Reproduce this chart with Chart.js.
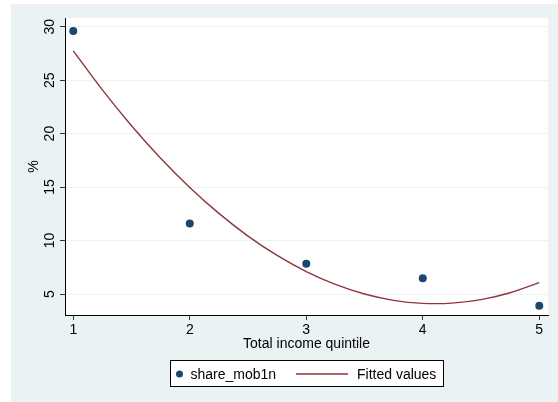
<!DOCTYPE html>
<html>
<head>
<meta charset="utf-8">
<script src="https://cdn.jsdelivr.net/npm/chart.js@4"></script>
<style>
  html, body { margin: 0; padding: 0; background: #ffffff; }
  #wrap { width: 558px; height: 402px; }
</style>
</head>
<body>
<div id="wrap"><canvas id="c" width="558" height="402"></canvas></div>
<script>
// Share of households by total income quintile
const quintiles = [1, 2, 3, 4, 5];
const shareMob1n = [29.6, 11.6, 7.84, 6.47, 3.9];

// Quadratic fitted values, sampled along the quintile axis
const fitX = [1, 1.25, 1.5, 1.75, 2, 2.25, 2.5, 2.75, 3, 3.25, 3.5, 3.75, 4, 4.25, 4.5, 4.75, 5];
const fitY = [27.74, 24.09, 20.74, 17.70, 14.97, 12.54, 10.42, 8.61, 7.10, 5.90, 5.00, 4.41, 4.13, 4.15, 4.48, 5.12, 6.06];

const xTickValues = [1, 2, 3, 4, 5];
const yTickValues = [5, 10, 15, 20, 25, 30];

const seriesNames = ['share_mob1n', 'Fitted values'];
const xTitle = 'Total income quintile';
const yTitle = '%';

const NAVY = '#1A476F';
const MAROON = '#90353B';
const PANEL = '#EAF2F3';
const FONT = { family: "'Liberation Sans', Arial, Helvetica, sans-serif", size: 14 };

const backgroundPlugin = {
  id: 'stataBackground',
  beforeDraw(chart) {
    const { ctx, chartArea: a } = chart;
    ctx.save();
    ctx.fillStyle = '#ffffff';
    ctx.fillRect(0, 0, chart.width, chart.height);
    ctx.fillStyle = PANEL;
    ctx.fillRect(11, 4, chart.width - 11, chart.height - 4);
    ctx.fillStyle = '#ffffff';
    ctx.fillRect(a.left, a.top, a.right - a.left, a.bottom - a.top);
    ctx.restore();
  }
};

const legendPlugin = {
  id: 'boxLegend',
  afterDraw(chart) {
    const { ctx } = chart;
    const ds = chart.data.datasets;
    ctx.save();
    ctx.fillStyle = '#ffffff';
    ctx.fillRect(170.5, 360.5, 273, 26);
    ctx.strokeStyle = '#000000';
    ctx.lineWidth = 1;
    ctx.strokeRect(170.5, 360.5, 273, 26);

    // scatter key
    ctx.fillStyle = ds[0].pointBackgroundColor;
    ctx.beginPath();
    ctx.arc(179.5, 374, 3.5, 0, Math.PI * 2);
    ctx.fill();

    // line key
    ctx.strokeStyle = ds[1].borderColor;
    ctx.lineWidth = 1.4;
    ctx.beginPath();
    ctx.moveTo(296, 374);
    ctx.lineTo(348, 374);
    ctx.stroke();

    ctx.fillStyle = '#000000';
    ctx.font = `${FONT.size}px ${FONT.family}`;
    ctx.textBaseline = 'alphabetic';
    ctx.textAlign = 'left';
    ctx.fillText(ds[0].label, 190.5, 379);
    ctx.fillText(ds[1].label, 357, 379);
    ctx.restore();
  }
};

new Chart(document.getElementById('c'), {
  type: 'scatter',
  data: {
    datasets: [
      {
        label: seriesNames[0],
        data: quintiles.map((q, i) => ({ x: q, y: shareMob1n[i] })),
        pointRadius: 4,
        pointHoverRadius: 4,
        pointBorderWidth: 0,
        pointBackgroundColor: NAVY,
        borderColor: NAVY,
        showLine: false,
        order: 1
      },
      {
        label: seriesNames[1],
        data: fitX.map((q, i) => ({ x: q, y: fitY[i] })),
        showLine: true,
        borderColor: MAROON,
        borderWidth: 1.4,
        pointRadius: 0,
        tension: 0.3,
        fill: false,
        order: 2
      }
    ]
  },
  options: {
    responsive: false,
    animation: false,
    devicePixelRatio: 1,
    layout: { padding: { left: 0, top: 18, right: 10, bottom: 0 } },
    plugins: {
      legend: { display: false },
      tooltip: { enabled: false }
    },
    scales: {
      x: {
        type: 'linear',
        min: 0.929,
        max: 5.075,
        afterBuildTicks: s => { s.ticks = xTickValues.map(v => ({ value: v })); },
        afterFit: s => { s.height = 87; },
        grid: { drawOnChartArea: false, drawTicks: true, tickLength: 5, tickColor: '#333333' },
        border: { color: '#000000', width: 1 },
        ticks: { color: '#000000', font: FONT, padding: 2, maxRotation: 0, autoSkip: false },
        title: { display: true, text: xTitle, color: '#000000', font: FONT, padding: { top: 0, bottom: 49.6 } }
      },
      y: {
        type: 'linear',
        min: 3.04,
        max: 30.81,
        afterBuildTicks: s => { s.ticks = yTickValues.map(v => ({ value: v })); },
        afterFit: s => { s.width = 65; },
        grid: { color: PANEL, lineWidth: 1, drawTicks: true, tickLength: 5, tickColor: '#333333' },
        border: { color: '#000000', width: 1 },
        ticks: { color: '#000000', font: FONT, padding: 2, minRotation: 90, maxRotation: 90, crossAlign: 'center', autoSkip: false },
        title: { display: true, text: yTitle, color: '#000000', font: FONT, padding: { top: 25.6, bottom: 0 } }
      }
    }
  },
  plugins: [backgroundPlugin, legendPlugin]
});
</script>
</body>
</html>
